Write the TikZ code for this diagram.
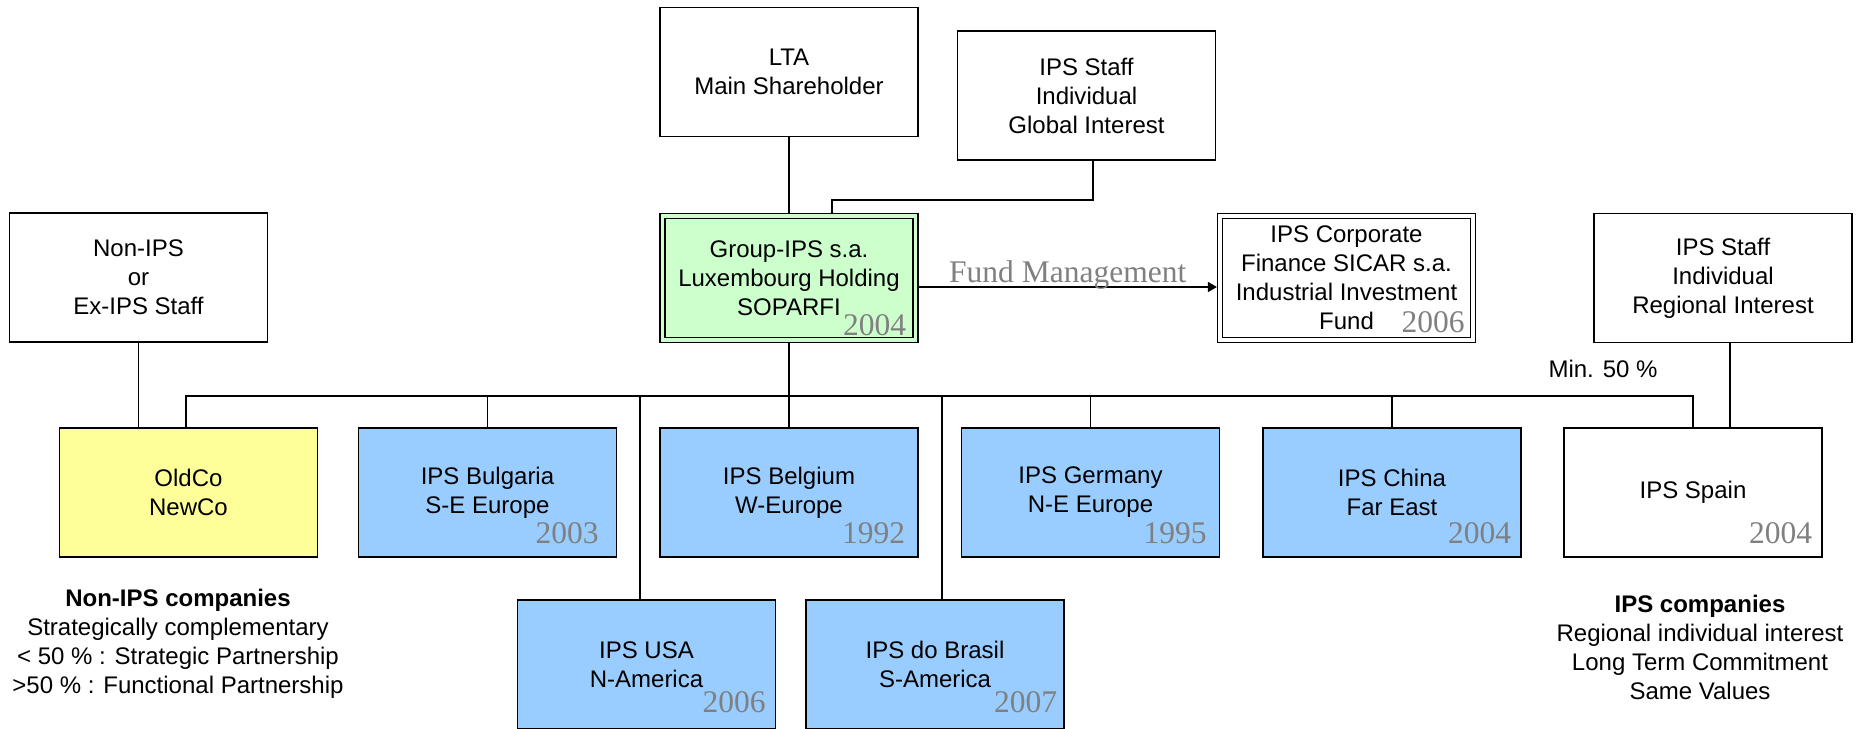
\documentclass[tikz,border=0pt]{standalone}
\usepackage{fontspec}
\setmainfont{Liberation Sans}
\newfontfamily\yearfont{Liberation Serif}
\usetikzlibrary{arrows.meta}
\definecolor{holdgreen}{HTML}{CCFFCC}
\definecolor{partyellow}{HTML}{FFFF99}
\definecolor{ipsblue}{HTML}{99CCFF}
\definecolor{yeargray}{HTML}{808080}
\newcommand{\boxfont}{\fontsize{9.6}{11.6}\selectfont}
\newcommand{\yearsize}{\yearfont\fontsize{12.6}{14}\selectfont}

\begin{document}
\begin{tikzpicture}[x=0.4pt,y=-0.4pt,
  org/.style={draw,line width=0.5pt,minimum width=103.2pt,minimum height=51.6pt,inner sep=0pt,align=center,font=\boxfont},
  dbl/.style={org,double distance=1.5pt,minimum width=101.2pt,minimum height=49.6pt,outer sep=1.25pt},
  year/.style={anchor=base east,inner sep=0pt,text=yeargray,font=\yearsize},
  fund/.style={anchor=base,yshift=2pt,inner sep=0pt,text=yeargray,font=\yearsize},
  note/.style={align=center,inner sep=0pt,font=\boxfont},
  link/.style={line width=0.5pt},
  busline/.style={line width=0.6pt}]
\useasboundingbox (0,0) rectangle (1859,728);

\node[org] (lta) at (789,72) {LTA\\Main Shareholder};
\node[org] (glob) at (1086.5,95.5) {IPS Staff\\Individual\\Global Interest};
\node[org] (nonips) at (138.5,277.5) {Non-IPS\\or\\Ex-IPS Staff};
\node[dbl,fill=holdgreen,double=holdgreen] (grp) at (789,278) {Group-IPS s.a.\\Luxembourg Holding\\SOPARFI};
\node[dbl,fill=white,double=white] (corp) at (1346.5,278) {IPS Corporate\\Finance SICAR s.a.\\Industrial Investment\\Fund};
\node[org] (reg) at (1723,278) {IPS Staff\\Individual\\Regional Interest};

\node[org,fill=partyellow] (oldco) at (188.5,492.5) {OldCo\\NewCo};
\node[org,fill=ipsblue] (bulg) at (487.5,492.5) {IPS Bulgaria\\S-E Europe};
\node[org,fill=ipsblue] (belg) at (789,492.5) {IPS Belgium\\W-Europe};
\node[org,fill=ipsblue] (germ) at (1090.5,492.5) {IPS Germany\\N-E Europe};
\node[org,fill=ipsblue] (china) at (1392,492.5) {IPS China\\Far East};
\node[org] (spain) at (1693,492.5) {IPS Spain};
\node[org,fill=ipsblue] (usa) at (646.5,664.5) {IPS USA\\N-America};
\node[org,fill=ipsblue] (bras) at (935,664.5) {IPS do Brasil\\S-America};

\node[year] at ([shift={(-12,-8)}]grp.south east) {2004};
\node[year] at ([shift={(-11,-11)}]corp.south east) {2006};
\node[year] at ([shift={(-18,-14)}]bulg.south east) {2003};
\node[year] at ([shift={(-13,-14)}]belg.south east) {1992};
\node[year] at ([shift={(-13,-14)}]germ.south east) {1995};
\node[year] at ([shift={(-10,-14)}]china.south east) {2004};
\node[year] at ([shift={(-10,-14)}]spain.south east) {2004};
\node[year] at ([shift={(-10,-17)}]usa.south east) {2006};
\node[year] at ([shift={(-7,-17)}]bras.south east) {2007};

\node[note] (min50) at (1603,369) {Min. 50 \%};
\node[note] (nonipsnote) at (178,644) {\textbf{Non-IPS companies}\\Strategically complementary\\< 50 \% : Strategic Partnership\\>50 \% : Functional Partnership};
\node[note] (ipsnote) at (1700,647) {\textbf{IPS companies}\\Regional individual interest\\Long Term Commitment\\Same Values};

\coordinate (gbend) at (832,200);
\coordinate (bus) at (0,396);
\draw[link] (lta) -- (grp);
\draw[link] ([xshift=2.6pt]glob.south) |- (gbend) -- (gbend |- grp.north);
\draw[line width=0.6pt,-{Triangle[length=3.6pt,width=4pt]}] ([yshift=-3.6pt]grp.east) -- node[fund] {Fund Management} ([yshift=-3.6pt]corp.west);
\draw[link] (nonips.south) -- (nonips.south |- oldco.north);
\draw[busline] ([xshift=-1pt]oldco.north) |- (bus -| spain.north) -- (spain.north);
\draw[busline] (grp.south) -- (grp.south |- bus);
\foreach \c in {bulg,belg,germ,china}
  \draw[link] (\c.north) -- (\c.north |- bus);
\draw[link] ([xshift=-2.6pt]usa.north) -- ([xshift=-2.6pt]usa.north |- bus);
\draw[link] ([xshift=2.8pt]bras.north) -- ([xshift=2.8pt]bras.north |- bus);
\draw[link] ([xshift=2.8pt]reg.south) -- ([xshift=2.8pt]reg.south |- spain.north);
\end{tikzpicture}
\end{document}
